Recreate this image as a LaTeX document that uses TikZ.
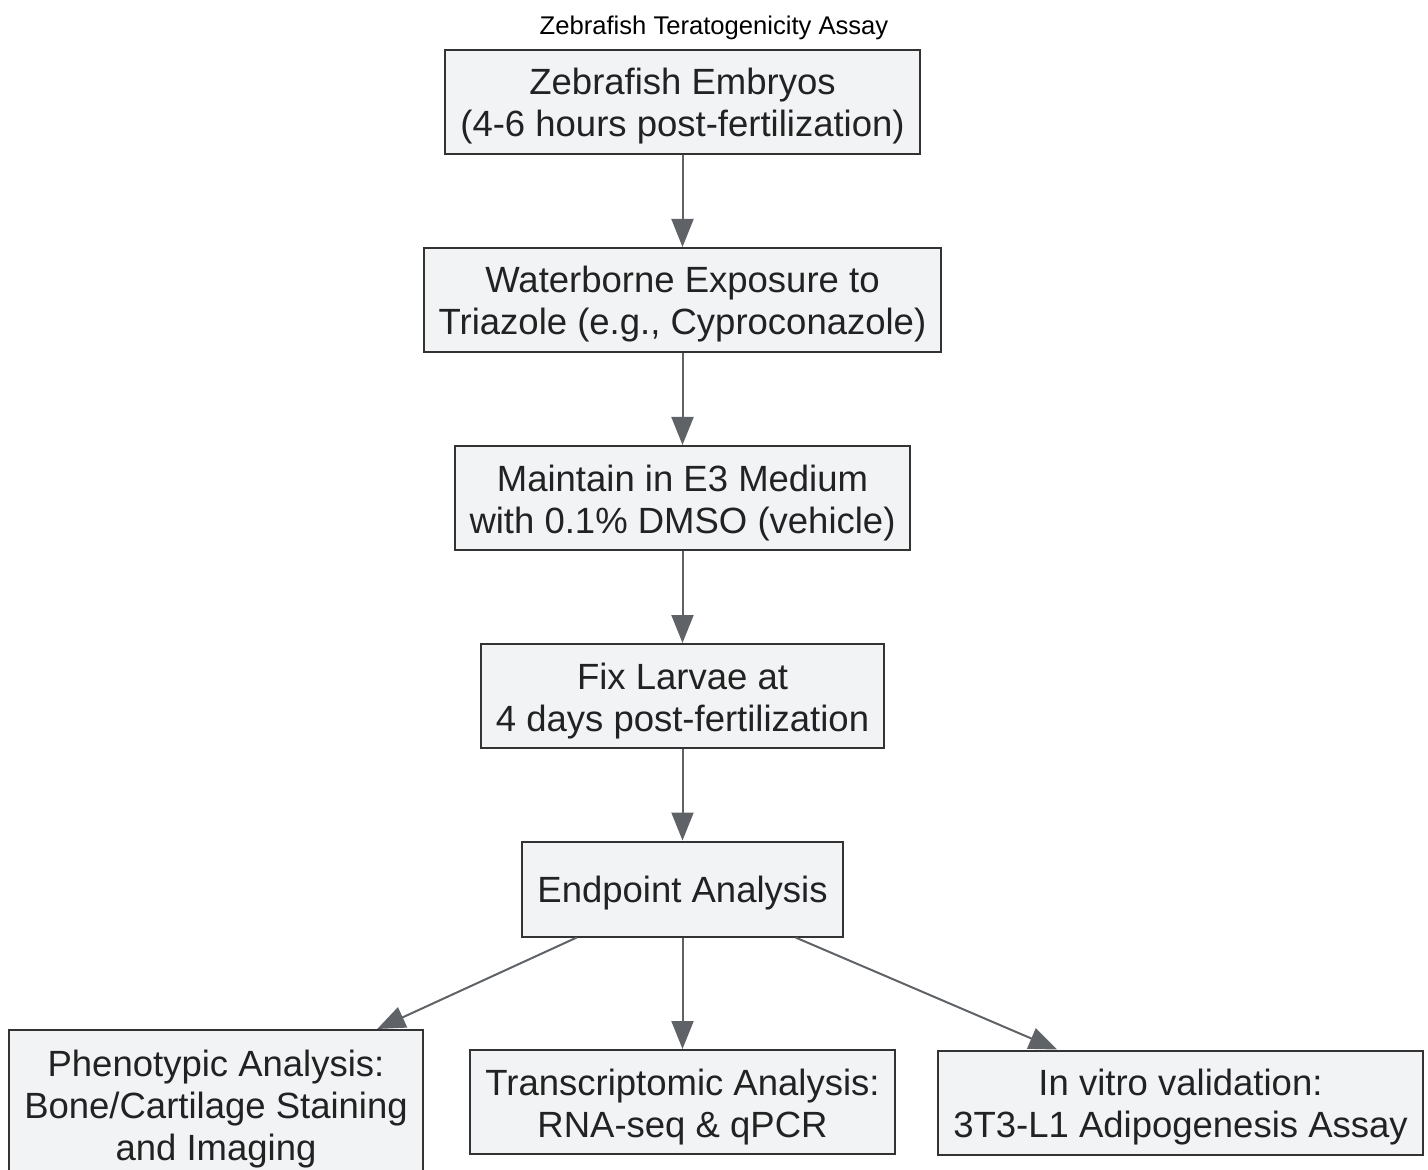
\documentclass[tikz,border=0pt]{standalone}
\usepackage{fontspec}
\setmainfont{Liberation Sans}
\usetikzlibrary{arrows.meta}
\definecolor{boxfill}{HTML}{F2F3F5}
\definecolor{boxline}{HTML}{333333}
\definecolor{arrowgray}{HTML}{5F6368}
\definecolor{textdark}{HTML}{222222}
\tikzset{
  stepbox/.style={draw=boxline, line width=1pt, fill=boxfill, text=textdark,
    align=center, inner xsep=7.5pt, minimum height=52pt,
    font=\fontsize{18.25}{21}\selectfont,
    text height=38.5pt, text depth=3.5pt},
  flow/.style={draw=arrowgray, line width=1pt, -{Triangle[length=14pt,width=11pt]}}
}
\begin{document}
\begin{tikzpicture}[x=0.5pt,y=-0.5pt]
\useasboundingbox (0,0) rectangle (1428,1170);
\node[font=\fontsize{12.8}{15}\selectfont, text=black] (title) at (714,28) {Zebrafish Teratogenicity Assay};
\node[stepbox] (embryo) at (682.5,102) {Zebrafish Embryos\\(4-6 hours post-fertilization)};
\node[stepbox] (expose) at (682.5,300) {Waterborne Exposure to\\Triazole (e.g., Cyproconazole)};
\node[stepbox] (medium) at (682.5,498) {Maintain in E3 Medium\\with 0.1\% DMSO (vehicle)};
\node[stepbox] (fix) at (682.5,696) {Fix Larvae at\\4 days post-fertilization};
\node[stepbox, minimum height=47.5pt, text height=17pt, text depth=4pt] (endp) at (682.5,889) {Endpoint Analysis};
\node[stepbox, minimum height=73pt, text height=60.5pt] (pheno) at (216,1103) {Phenotypic Analysis:\\Bone/Cartilage Staining\\and Imaging};
\node[stepbox] (trans) at (682.5,1102) {Transcriptomic Analysis:\\RNA-seq \& qPCR};
\node[stepbox] (vitro) at (1180.5,1102.5) {In vitro validation:\\3T3-L1 Adipogenesis Assay};
\draw[flow] (embryo) -- (expose);
\draw[flow] (expose) -- (medium);
\draw[flow] (medium) -- (fix);
\draw[flow] (fix) -- (endp);
\draw[flow] (endp) -- (pheno);
\draw[flow] (endp) -- (trans);
\draw[flow] (endp) -- (vitro);
\end{tikzpicture}
\end{document}
